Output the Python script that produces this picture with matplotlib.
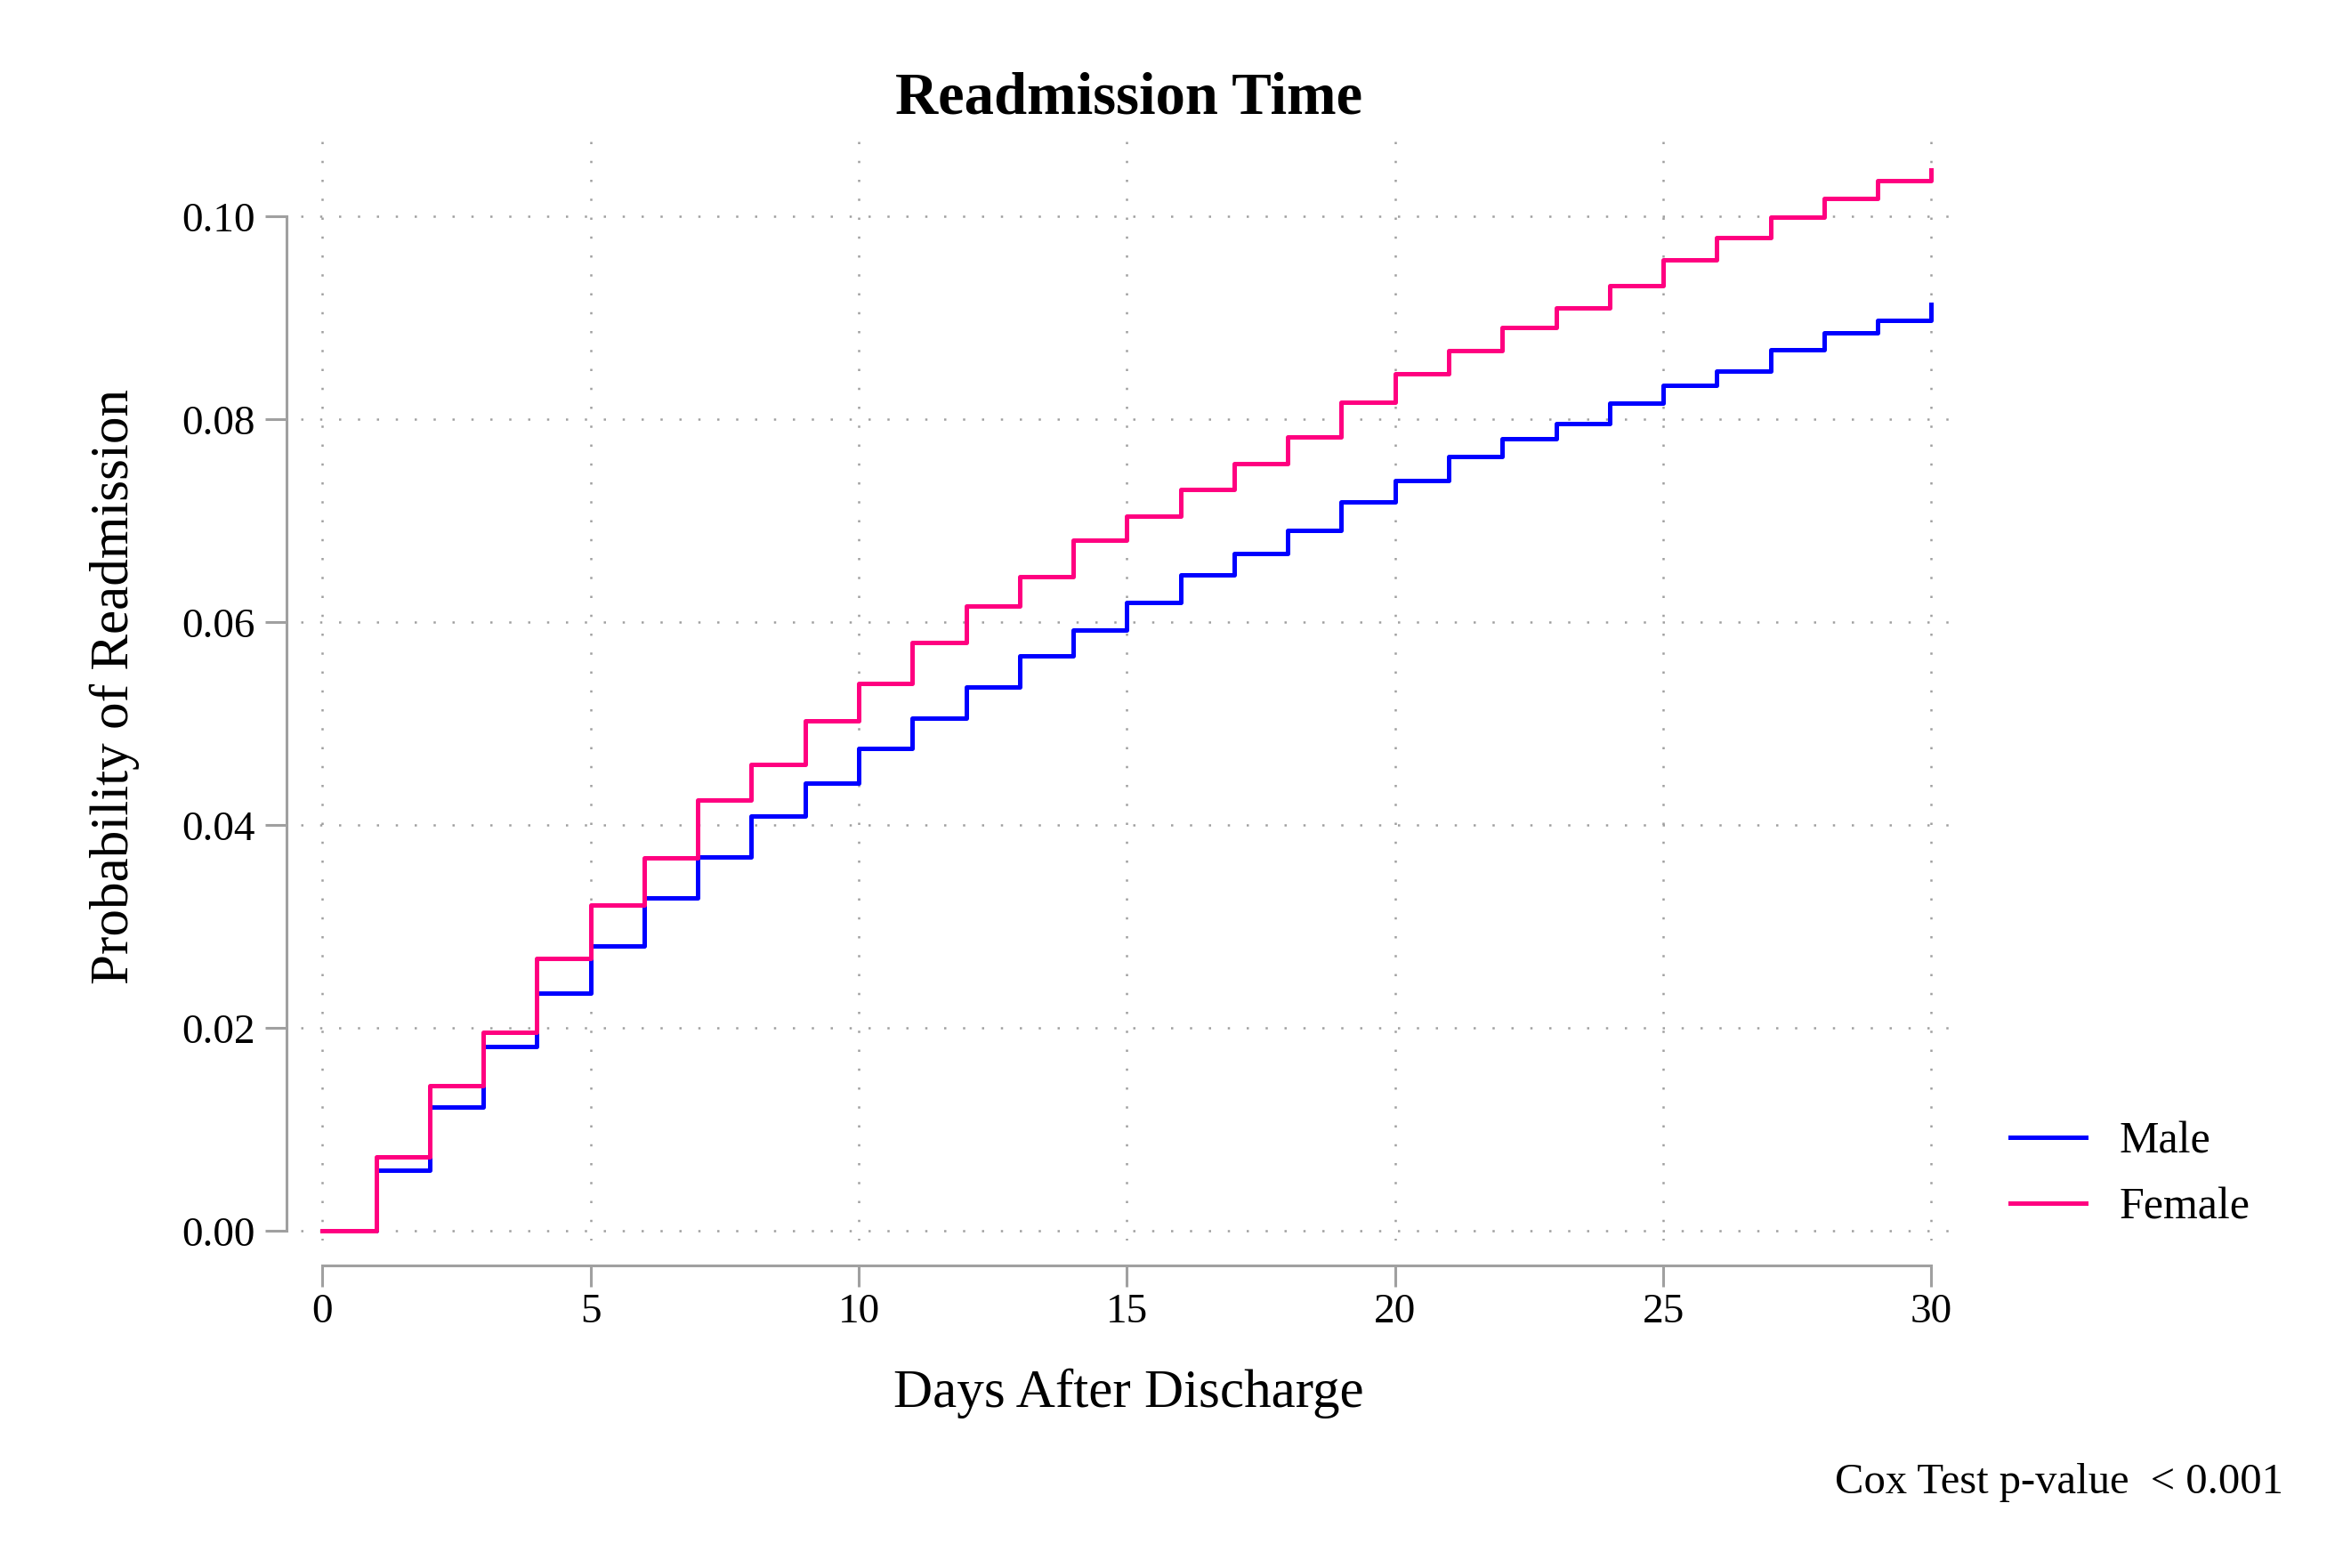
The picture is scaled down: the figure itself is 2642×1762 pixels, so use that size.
import numpy as np
import matplotlib.pyplot as plt

# days after discharge, step levels (value from day i onward)
days = np.arange(0, 31)
male = [0, 0.0060, 0.0122, 0.0182, 0.0235, 0.0281, 0.0328, 0.0369, 0.0409, 0.0442,
        0.0476, 0.0506, 0.0536, 0.0567, 0.0592, 0.0620, 0.0647, 0.0668, 0.0691, 0.0719,
        0.0740, 0.0763, 0.0781, 0.0796, 0.0816, 0.0834, 0.0848, 0.0869, 0.0885, 0.0898,
        0.0913]
female = [0, 0.0073, 0.0143, 0.0196, 0.0269, 0.0321, 0.0368, 0.0425, 0.0460, 0.0503,
          0.0540, 0.0580, 0.0616, 0.0645, 0.0681, 0.0705, 0.0731, 0.0756, 0.0783, 0.0817,
          0.0845, 0.0868, 0.0891, 0.0910, 0.0932, 0.0957, 0.0979, 0.0999, 0.1018, 0.1035,
          0.1046]
group_labels = ['Male', 'Female']
x_ticks = [0, 5, 10, 15, 20, 25, 30]
y_ticks = [0.00, 0.02, 0.04, 0.06, 0.08, 0.10]

plt.rcParams['font.family'] = ['Liberation Serif', 'DejaVu Serif']
grey = '#A0A0A0'

fig = plt.figure(figsize=(13.21, 8.81), dpi=200)
ax = fig.add_axes([0.128, 0.209, 0.704, 0.706])

ax.step(days, male, where='post', color='#0000FF', lw=1.8, label=group_labels[0])
ax.step(days, female, where='post', color='#FF0080', lw=1.8, label=group_labels[1])

ax.set_xlim(-0.4, 30.46)
ax.set_ylim(-0.0009, 0.1082)
ax.set_xticks(x_ticks)
ax.set_yticks(y_ticks)
ax.set_yticklabels([f'{v:.2f}' for v in y_ticks])

ax.grid(True, color='#A0A0A0', lw=0.9, linestyle=(0, (1, 7.5)))

for s in ['top', 'right']:
    ax.spines[s].set_visible(False)
ax.spines['left'].set_position(('outward', 5.8))
ax.spines['bottom'].set_position(('outward', 10))
ax.spines['left'].set_bounds(0, 0.10)
ax.spines['bottom'].set_bounds(0, 30)
for s in ['left', 'bottom']:
    ax.spines[s].set_color(grey)
    ax.spines[s].set_linewidth(1.1)

ax.tick_params(axis='both', colors=grey, length=8.6, width=1.1, labelsize=17, labelcolor='black')
ax.tick_params(axis='x', pad=3)
ax.tick_params(axis='y', pad=4)

ax.set_title('Readmission Time', fontsize=24, fontweight='bold', pad=8)
ax.set_xlabel('Days After Discharge', fontsize=22, labelpad=15)
ax.set_ylabel('Probability of Readmission', fontsize=22, labelpad=17)

fig.legend(loc='center left', bbox_to_anchor=(0.855, 0.2505), frameon=False,
           fontsize=18, handlelength=1.7, handletextpad=0.75, labelspacing=0.55,
           borderpad=0, borderaxespad=0)

fig.text(0.971, 0.0545, 'Cox Test p-value  < 0.001', ha='right', va='center', fontsize=17.5)

fig.savefig('out.png', dpi=200)
